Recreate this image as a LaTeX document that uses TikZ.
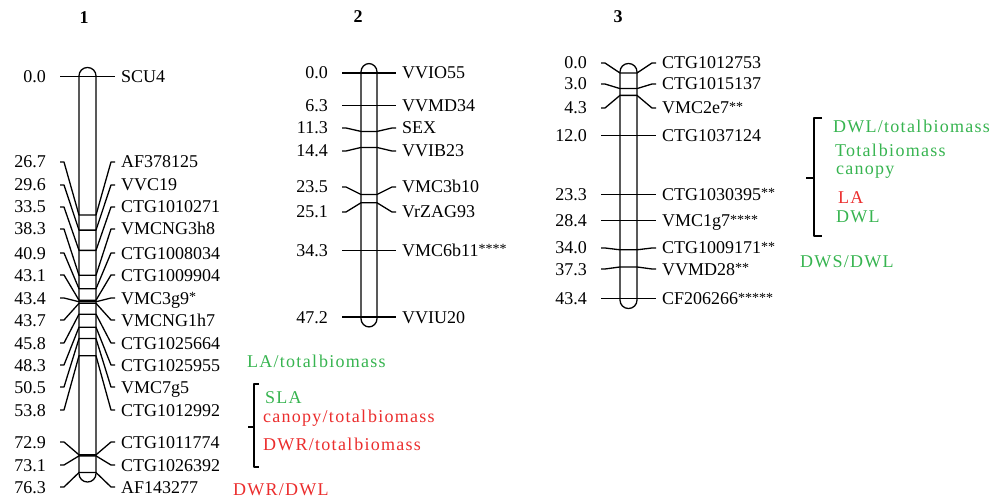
\documentclass[tikz,border=0pt]{standalone}
\usepackage{fontspec}
\setmainfont{Liberation Serif}
\newfontfamily\qtlfont[LetterSpace=7]{Liberation Serif}
\definecolor{qgreen}{RGB}{55,180,80}
\definecolor{qred}{RGB}{235,45,45}
\tikzset{
  chrbar/.style={draw, line width=1.3pt, rounded corners=8.4pt},
  mline/.style={line width=1.3pt, line join=round},
  numlab/.style={anchor=base east, inner sep=0pt, font=\fontsize{18}{20}\selectfont},
  namelab/.style={anchor=base west, inner sep=0pt, font=\fontsize{18}{20}\selectfont},
  qtlg/.style={anchor=base west, inner sep=0pt, text=qgreen, font=\fontsize{18}{20}\selectfont\qtlfont},
  qtlr/.style={anchor=base west, inner sep=0pt, text=qred, font=\fontsize{18}{20}\selectfont\qtlfont},
  headlab/.style={inner sep=0pt, font=\fontsize{18}{20}\selectfont\bfseries},
}
% #1 id, #2 bar left x, #3 bar right x, #4 marker y, #5 label y, #6 number, #7 name
\newcommand\mkr[7]{%
  \node[numlab] (#1n) at (#2-33,#5+6) {#6};
  \node[namelab] (#1m) at (#3+25,#5+6) {#7};
  \coordinate (#1p1) at (#2-19,#5);
  \coordinate (#1p2) at (#2-15,#5);
  \coordinate (#1p3) at (#2,#4);
  \coordinate (#1p4) at (#3,#4);
  \coordinate (#1p5) at (#3+15,#5);
  \coordinate (#1p6) at (#3+19,#5);
  \draw[mline] (#1p1) -- (#1p2) -- (#1p3) -- (#1p4) -- (#1p5) -- (#1p6);
}
\newcommand\stars[1]{\raisebox{2.5pt}{\fontsize{14}{14}\selectfont#1}}
\newcommand\tb{total\kern2pt biomass}
\begin{document}
\begin{tikzpicture}[x=1pt,y=-1pt]
\useasboundingbox (0,0) rectangle (997,500);
% headings
\node[headlab] (h1) at (84,18) {1};
\node[headlab] (h2) at (358,17) {2};
\node[headlab] (h3) at (618,17) {3};
% ---------- chromosome 1 ----------
\draw[chrbar] (79,67.5) rectangle (96,482);
\mkr{a1}{79}{96}{76.5+5.19*0.0}{76.5}{0.0}{SCU4}
\mkr{b1}{79}{96}{76.5+5.19*26.7}{162}{26.7}{AF378125}
\mkr{c1}{79}{96}{76.5+5.19*29.6}{185}{29.6}{VVC19}
\mkr{d1}{79}{96}{76.5+5.19*33.5}{207}{33.5}{CTG1010271}
\mkr{e1}{79}{96}{76.5+5.19*38.3}{229}{38.3}{VMCNG3h8}
\mkr{f1}{79}{96}{76.5+5.19*40.9}{253}{40.9}{CTG1008034}
\mkr{g1}{79}{96}{76.5+5.19*43.1}{275}{43.1}{CTG1009904}
\mkr{h1}{79}{96}{76.5+5.19*43.4}{298}{43.4}{VMC3g9\stars{*}}
\mkr{i1}{79}{96}{76.5+5.19*43.7}{320}{43.7}{VMCNG1h7}
\mkr{j1}{79}{96}{76.5+5.19*45.8}{343}{45.8}{CTG1025664}
\mkr{k1}{79}{96}{76.5+5.19*48.3}{365}{48.3}{CTG1025955}
\mkr{l1}{79}{96}{76.5+5.19*50.5}{387}{50.5}{VMC7g5}
\mkr{m1}{79}{96}{76.5+5.19*53.8}{410}{53.8}{CTG1012992}
\mkr{n1}{79}{96}{76.5+5.19*72.9}{442}{72.9}{CTG1011774}
\mkr{o1}{79}{96}{76.5+5.19*73.1}{465}{73.1}{CTG1026392}
\mkr{p1}{79}{96}{76.5+5.19*76.3}{487}{76.3}{AF143277}
% QTLs chromosome 1
\node[qtlg] (q1a) at (247,367.5) {LA/\tb};
\draw[mline] (259,384) -- (254,384) -- (254,467) -- (259,467);
\draw[mline] (254,427) -- (248,427);
\node[qtlg] (q1b) at (265,403.5) {SLA};
\node[qtlr] (q1c) at (263,422) {canopy/\tb};
\node[qtlr] (q1d) at (263,450.5) {DWR/\tb};
\node[qtlr] (q1e) at (233,495.5) {DWR/DWL};
% ---------- chromosome 2 ----------
\draw[chrbar] (361,63.5) rectangle (377,327);
\mkr{a2}{361}{377}{73+5.17*0.0}{73}{0.0}{VVIO55}
\mkr{b2}{361}{377}{73+5.17*6.3}{73+5.17*6.3}{6.3}{VVMD34}
\mkr{c2}{361}{377}{73+5.17*11.3}{128}{11.3}{SEX}
\mkr{d2}{361}{377}{73+5.17*14.4}{151}{14.4}{VVIB23}
\mkr{e2}{361}{377}{73+5.17*23.5}{187}{23.5}{VMC3b10}
\mkr{f2}{361}{377}{73+5.17*25.1}{212}{25.1}{VrZAG93}
\mkr{g2}{361}{377}{73+5.17*34.3}{73+5.17*34.3}{34.3}{VMC6b11\stars{****}}
\mkr{h2}{361}{377}{73+5.17*47.2}{73+5.17*47.2}{47.2}{VVIU20}
% ---------- chromosome 3 ----------
\draw[chrbar] (620,63.5) rectangle (637,308.5);
\mkr{a3}{620}{637}{73+5.2*0.0}{63}{0.0}{CTG1012753}
\mkr{b3}{620}{637}{73+5.2*3.0}{84}{3.0}{CTG1015137}
\mkr{c3}{620}{637}{73+5.2*4.3}{108}{4.3}{VMC2e7\stars{**}}
\mkr{d3}{620}{637}{73+5.2*12.0}{73+5.2*12.0}{12.0}{CTG1037124}
\mkr{e3}{620}{637}{73+5.2*23.3}{73+5.2*23.3}{23.3}{CTG1030395\stars{**}}
\mkr{f3}{620}{637}{73+5.2*28.4}{73+5.2*28.4}{28.4}{VMC1g7\stars{****}}
\mkr{g3}{620}{637}{73+5.2*34.0}{248}{34.0}{CTG1009171\stars{**}}
\mkr{h3}{620}{637}{73+5.2*37.3}{269}{37.3}{VVMD28\stars{**}}
\mkr{i3}{620}{637}{73+5.2*43.4}{73+5.2*43.4}{43.4}{CF206266\stars{*****}}
% QTLs chromosome 3
\draw[mline] (822,118) -- (814,118) -- (814,236) -- (822,236);
\draw[mline] (814,178) -- (806,178);
\node[qtlg] (q3a) at (833,132.5) {DWL/\tb};
\node[qtlg] (q3b) at (835,157) {Total\kern2pt biomass};
\node[qtlg] (q3c) at (836,175) {canopy};
\node[qtlr] (q3d) at (838,203.5) {LA};
\node[qtlg] (q3e) at (836,222.5) {DWL};
\node[qtlg] (q3f) at (800,267.5) {DWS/DWL};
\end{tikzpicture}
\end{document}
